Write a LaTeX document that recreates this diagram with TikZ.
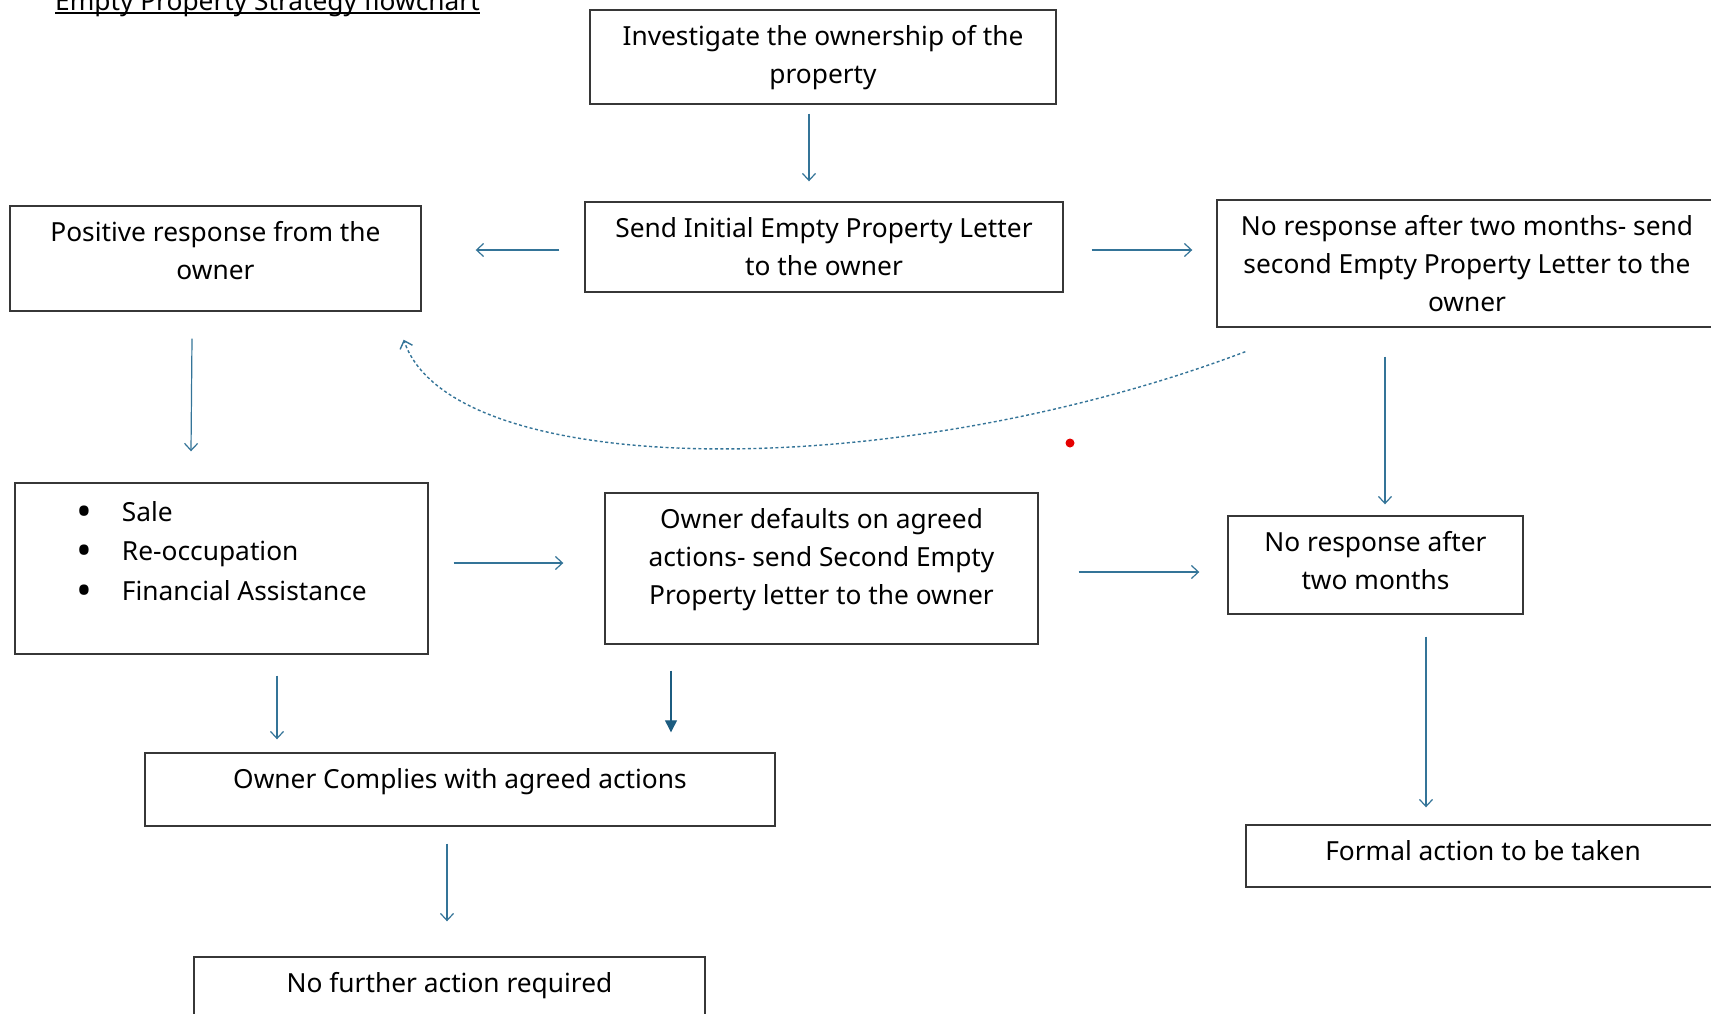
\documentclass[tikz,border=0pt]{standalone}
\usepackage{fontspec}
\setmainfont{Noto Sans}
\usepackage{tikz}
\usetikzlibrary{calc,arrows.meta}

\definecolor{linkblue}{RGB}{52,116,152}
\definecolor{headblue}{RGB}{28,92,128}
\definecolor{edgegray}{RGB}{55,55,55}

\newcommand{\boxtxt}[3]{\parbox[c][#2pt][t]{#1pt}{\centering\rule{0pt}{35pt}#3\par}}
\newcommand{\bulletitem}[1]{\hspace*{62pt}\makebox[45pt][l]{\raisebox{-5pt}{\scalebox{1.6}{\textbullet}}}#1}

\tikzset{
  flowbox/.style={draw=edgegray, line width=1.4pt, inner sep=0pt, text=black},
  arr/.style={draw=linkblue, line width=1.2pt, -{Straight Barb[length=7pt,width=13pt]}},
  arrfill/.style={draw=headblue, line width=1.2pt, -{Triangle[length=12pt,width=12pt]}, headblue}
}

\begin{document}
\begin{tikzpicture}[x=1pt, y=-1pt, font=\fontsize{26.3}{38}\selectfont]
  \useasboundingbox (0,0) rectangle (1711,1013);
  \clip (0,0) rectangle (1711,1013);

  \node[anchor=base west, inner sep=0pt] (title) at (55,10) {Empty Property Strategy flowchart};
  \draw[line width=1.5pt] ([yshift=-3pt]title.base west) -- ([yshift=-3pt]title.base east);

  \node[flowbox] (inv) at (823,57) {\boxtxt{466}{94}{Investigate the ownership of the\\ property}};
  \node[flowbox] (send) at (824,247) {\boxtxt{478}{90}{Send Initial Empty Property Letter\\ to the owner}};
  \node[flowbox] (pos) at (215.5,258.5) {\boxtxt{411}{105}{Positive response from the\\ owner}};
  \node[flowbox] (noresp2) at (1467,263.5) {\boxtxt{500}{127}{No response after two months- send\\ second Empty Property Letter to the\\ owner}};
  \node[flowbox] (bullets) at (221.5,568.5) {\parbox[c][171pt][t]{413pt}{\raggedright\fontsize{26.3}{39.5}\selectfont\rule{0pt}{38pt}%
    \bulletitem{Sale}\\ \bulletitem{Re-occupation}\\ \bulletitem{Financial Assistance}\par}};
  \node[flowbox] (defaults) at (821.5,568.5) {\boxtxt{433}{151}{Owner defaults on agreed\\ actions- send Second Empty\\ Property letter to the owner}};
  \node[flowbox] (noresp) at (1375.5,565) {\boxtxt{295}{98}{No response after\\ two months}};
  \node[flowbox] (comply) at (460,789.5) {\boxtxt{630}{73}{Owner Complies with agreed actions}};
  \node[flowbox] (formal) at (1483,856) {\boxtxt{474}{62}{Formal action to be taken}};
  \node[flowbox] (nofurther) at (449.5,993) {\boxtxt{511}{72}{No further action required}};

  \draw[arr] ($(inv.south)+(-14,9)$) -- ($(send.north)+(-15,-20)$);
  \draw[arr] ($(send.west)+(-25,3)$) -- ($(pos.east)+(54,-8.5)$);
  \draw[arr] ($(send.east)+(28,3)$) -- ($(noresp2.west)+(-24,-13.5)$);
  \draw[arr] ($(pos.south)+(-23.5,27)$) -- ($(bullets.north)+(-30.5,-31)$);
  \draw[arr] ($(noresp2.south)+(-82,29)$) -- ($(noresp.north)+(9.5,-11)$);
  \draw[arr] ($(bullets.east)+(25,-5.5)$) -- ($(defaults.west)+(-41,-5.5)$);
  \draw[arr] ($(defaults.east)+(40,3.5)$) -- ($(noresp.west)+(-28,7)$);
  \draw[arr] ($(bullets.south)+(55.5,21)$) -- ($(comply.north)+(-183,-13)$);
  \draw[arrfill] ($(defaults.south)+(-150.5,26)$) -- ($(comply.north)+(211,-20)$);
  \draw[arr] ($(comply.south)+(-13,17)$) -- ($(nofurther.north)+(-2.5,-35)$);
  \draw[arr] ($(noresp.south)+(50.5,22)$) -- ($(formal.north)+(-57,-17)$);

  \draw[arr, line width=1.4pt, dash pattern=on 3pt off 2.5pt] ($(noresp2.south west)+(29,24)$)
    .. controls (896,484) and (452,482) .. ($(pos.south east)+(-18,28)$);

  \fill[red!90!black] (1070,443) circle (4.5);
\end{tikzpicture}
\end{document}
